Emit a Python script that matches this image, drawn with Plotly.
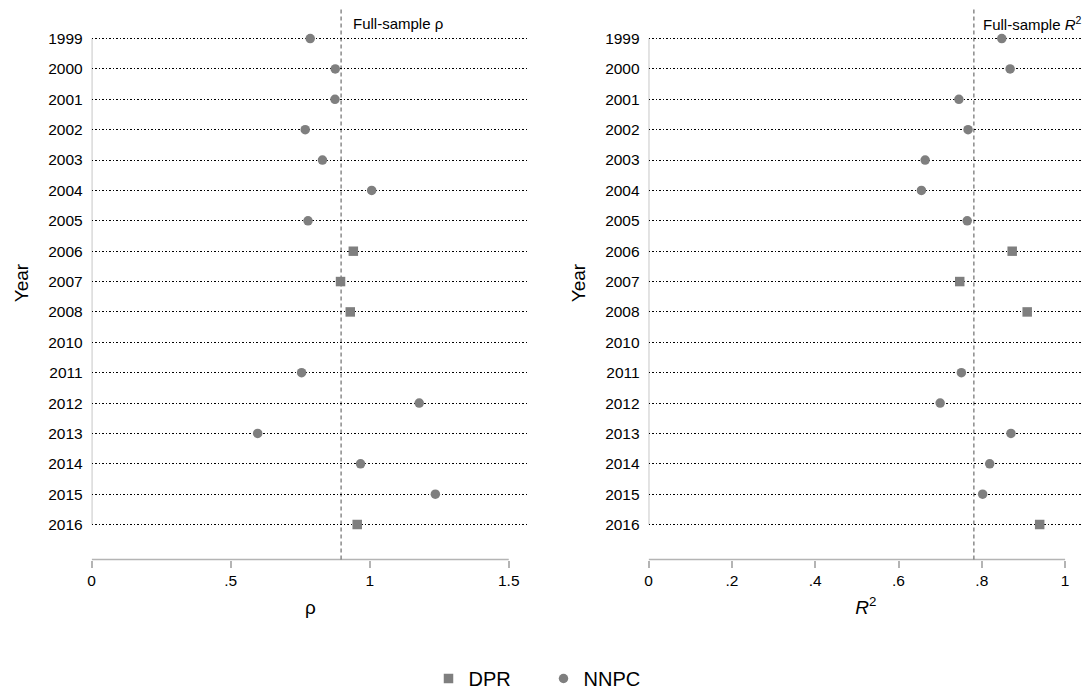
import plotly.graph_objects as go

# Yearly estimates by data source (2010 has no estimate)
years = ["1999", "2000", "2001", "2002", "2003", "2004", "2005", "2006", "2007",
         "2008", "2010", "2011", "2012", "2013", "2014", "2015", "2016"]
source = ["NNPC", "NNPC", "NNPC", "NNPC", "NNPC", "NNPC", "NNPC", "DPR", "DPR",
          "DPR", None, "NNPC", "NNPC", "NNPC", "NNPC", "NNPC", "DPR"]
rho = [0.786, 0.876, 0.875, 0.768, 0.830, 1.007, 0.778, 0.941, 0.895,
       0.930, None, 0.755, 1.178, 0.597, 0.967, 1.236, 0.955]
r2 = [0.848, 0.868, 0.745, 0.767, 0.664, 0.655, 0.765, 0.873, 0.747,
      0.909, None, 0.751, 0.700, 0.870, 0.819, 0.802, 0.939]

rho_full = 0.897
r2_full = 0.781

rho_ticks = [0, 0.5, 1, 1.5]
rho_ticktext = ["0", ".5", "1", "1.5"]
r2_ticks = [0, 0.2, 0.4, 0.6, 0.8, 1]
r2_ticktext = ["0", ".2", ".4", ".6", ".8", "1"]

FONT = "Liberation Sans, Arial, Helvetica, sans-serif"
MARKER = "#7f7f7f"
AXIS = "#b4b4b4"
symbols = {"DPR": "square", "NNPC": "circle"}

W, H = 1083, 698
fig = go.Figure()

for axis_idx, values in ((1, rho), (2, r2)):
    for src in ["DPR", "NNPC"]:
        xs = [v for v, s in zip(values, source) if s == src]
        ys = [y for y, s in zip(years, source) if s == src]
        fig.add_trace(go.Scatter(
            x=xs, y=ys, mode="markers", name=src,
            legendgroup=src, showlegend=(axis_idx == 1),
            marker=dict(symbol=symbols[src], size=9.5, color=MARKER, line=dict(width=0)),
            xaxis="x" if axis_idx == 1 else "x2",
            yaxis="y" if axis_idx == 1 else "y2",
        ))

n = len(years)
yrange = [n - 1 + 1.15, -1.05]
ydom = [1 - 566 / H, 1 - 6.7 / H]

common_y = dict(
    type="category", categoryorder="array", categoryarray=years,
    range=yrange, domain=ydom,
    showgrid=True, gridcolor="black", gridwidth=1.2, griddash="1.5px,2px",
    showline=False, zeroline=False, ticks="", ticklabelstandoff=8,
    tickfont=dict(size=15.5, color="black", family=FONT),
    title=dict(text="Year", font=dict(size=19, color="black", family=FONT), standoff=14),
)
common_x = dict(
    showgrid=False, zeroline=False, showline=False,
    ticks="outside", ticklen=7, tickwidth=1.5, tickcolor=AXIS,
    tickfont=dict(size=15.5, color="black", family=FONT),
)

fig.update_layout(
    width=W, height=H,
    margin=dict(l=0, r=0, t=0, b=0),
    paper_bgcolor="white", plot_bgcolor="white",
    font=dict(family=FONT, color="black"),
    xaxis=dict(common_x, domain=[88 / W, 527 / W], range=[0, 1.573],
               tickvals=rho_ticks, ticktext=rho_ticktext,
               title=dict(text="ρ", font=dict(size=19, family=FONT), standoff=12)),
    xaxis2=dict(common_x, domain=[647 / W, 1.0], range=[0, 1.043],
                tickvals=r2_ticks, ticktext=r2_ticktext,
                title=dict(text="<i>R</i><sup>2</sup>", font=dict(size=19, family=FONT), standoff=12)),
    yaxis=dict(common_y, anchor="x"),
    yaxis2=dict(common_y, anchor="x2"),
    legend=dict(orientation="h", x=0.5, xanchor="center", y=1 - 686.7 / H, yanchor="middle",
                font=dict(size=20, family=FONT, color="black"), entrywidth=70),
    showlegend=True,
)

shapes = []
for xr, yr, ticks, full in (("x", "y", rho_ticks, rho_full), ("x2", "y2", r2_ticks, r2_full)):
    # x axis line spanning the labelled ticks only
    shapes.append(dict(type="line", xref=xr, yref=yr + " domain", x0=ticks[0], x1=ticks[-1],
                       y0=0, y1=0, line=dict(color=AXIS, width=1.5), layer="below"))
    # y axis line spanning the first to last year
    shapes.append(dict(type="line", xref=xr, yref=yr, x0=0, x1=0, y0=0, y1=n - 1,
                       line=dict(color=AXIS, width=1.5), layer="below"))
    # full-sample reference line
    shapes.append(dict(type="line", xref=xr, yref=yr + " domain", x0=full, x1=full,
                       y0=0, y1=1, line=dict(color="#6e6e6e", width=1.2, dash="4px,3px"),
                       layer="below"))
fig.update_layout(shapes=shapes)

fig.add_annotation(x=rho_full, xref="x", y=1 - 24 / H, yref="paper", xanchor="left",
                   yanchor="middle", xshift=10, showarrow=False, text="Full-sample ρ",
                   font=dict(size=15, family=FONT, color="black"))
fig.add_annotation(x=r2_full, xref="x2", y=1 - 24 / H, yref="paper", xanchor="left",
                   yanchor="middle", xshift=7, showarrow=False,
                   text="Full-sample <i>R</i><sup>2</sup>",
                   font=dict(size=15, family=FONT, color="black"))

fig.write_html("out.html")
